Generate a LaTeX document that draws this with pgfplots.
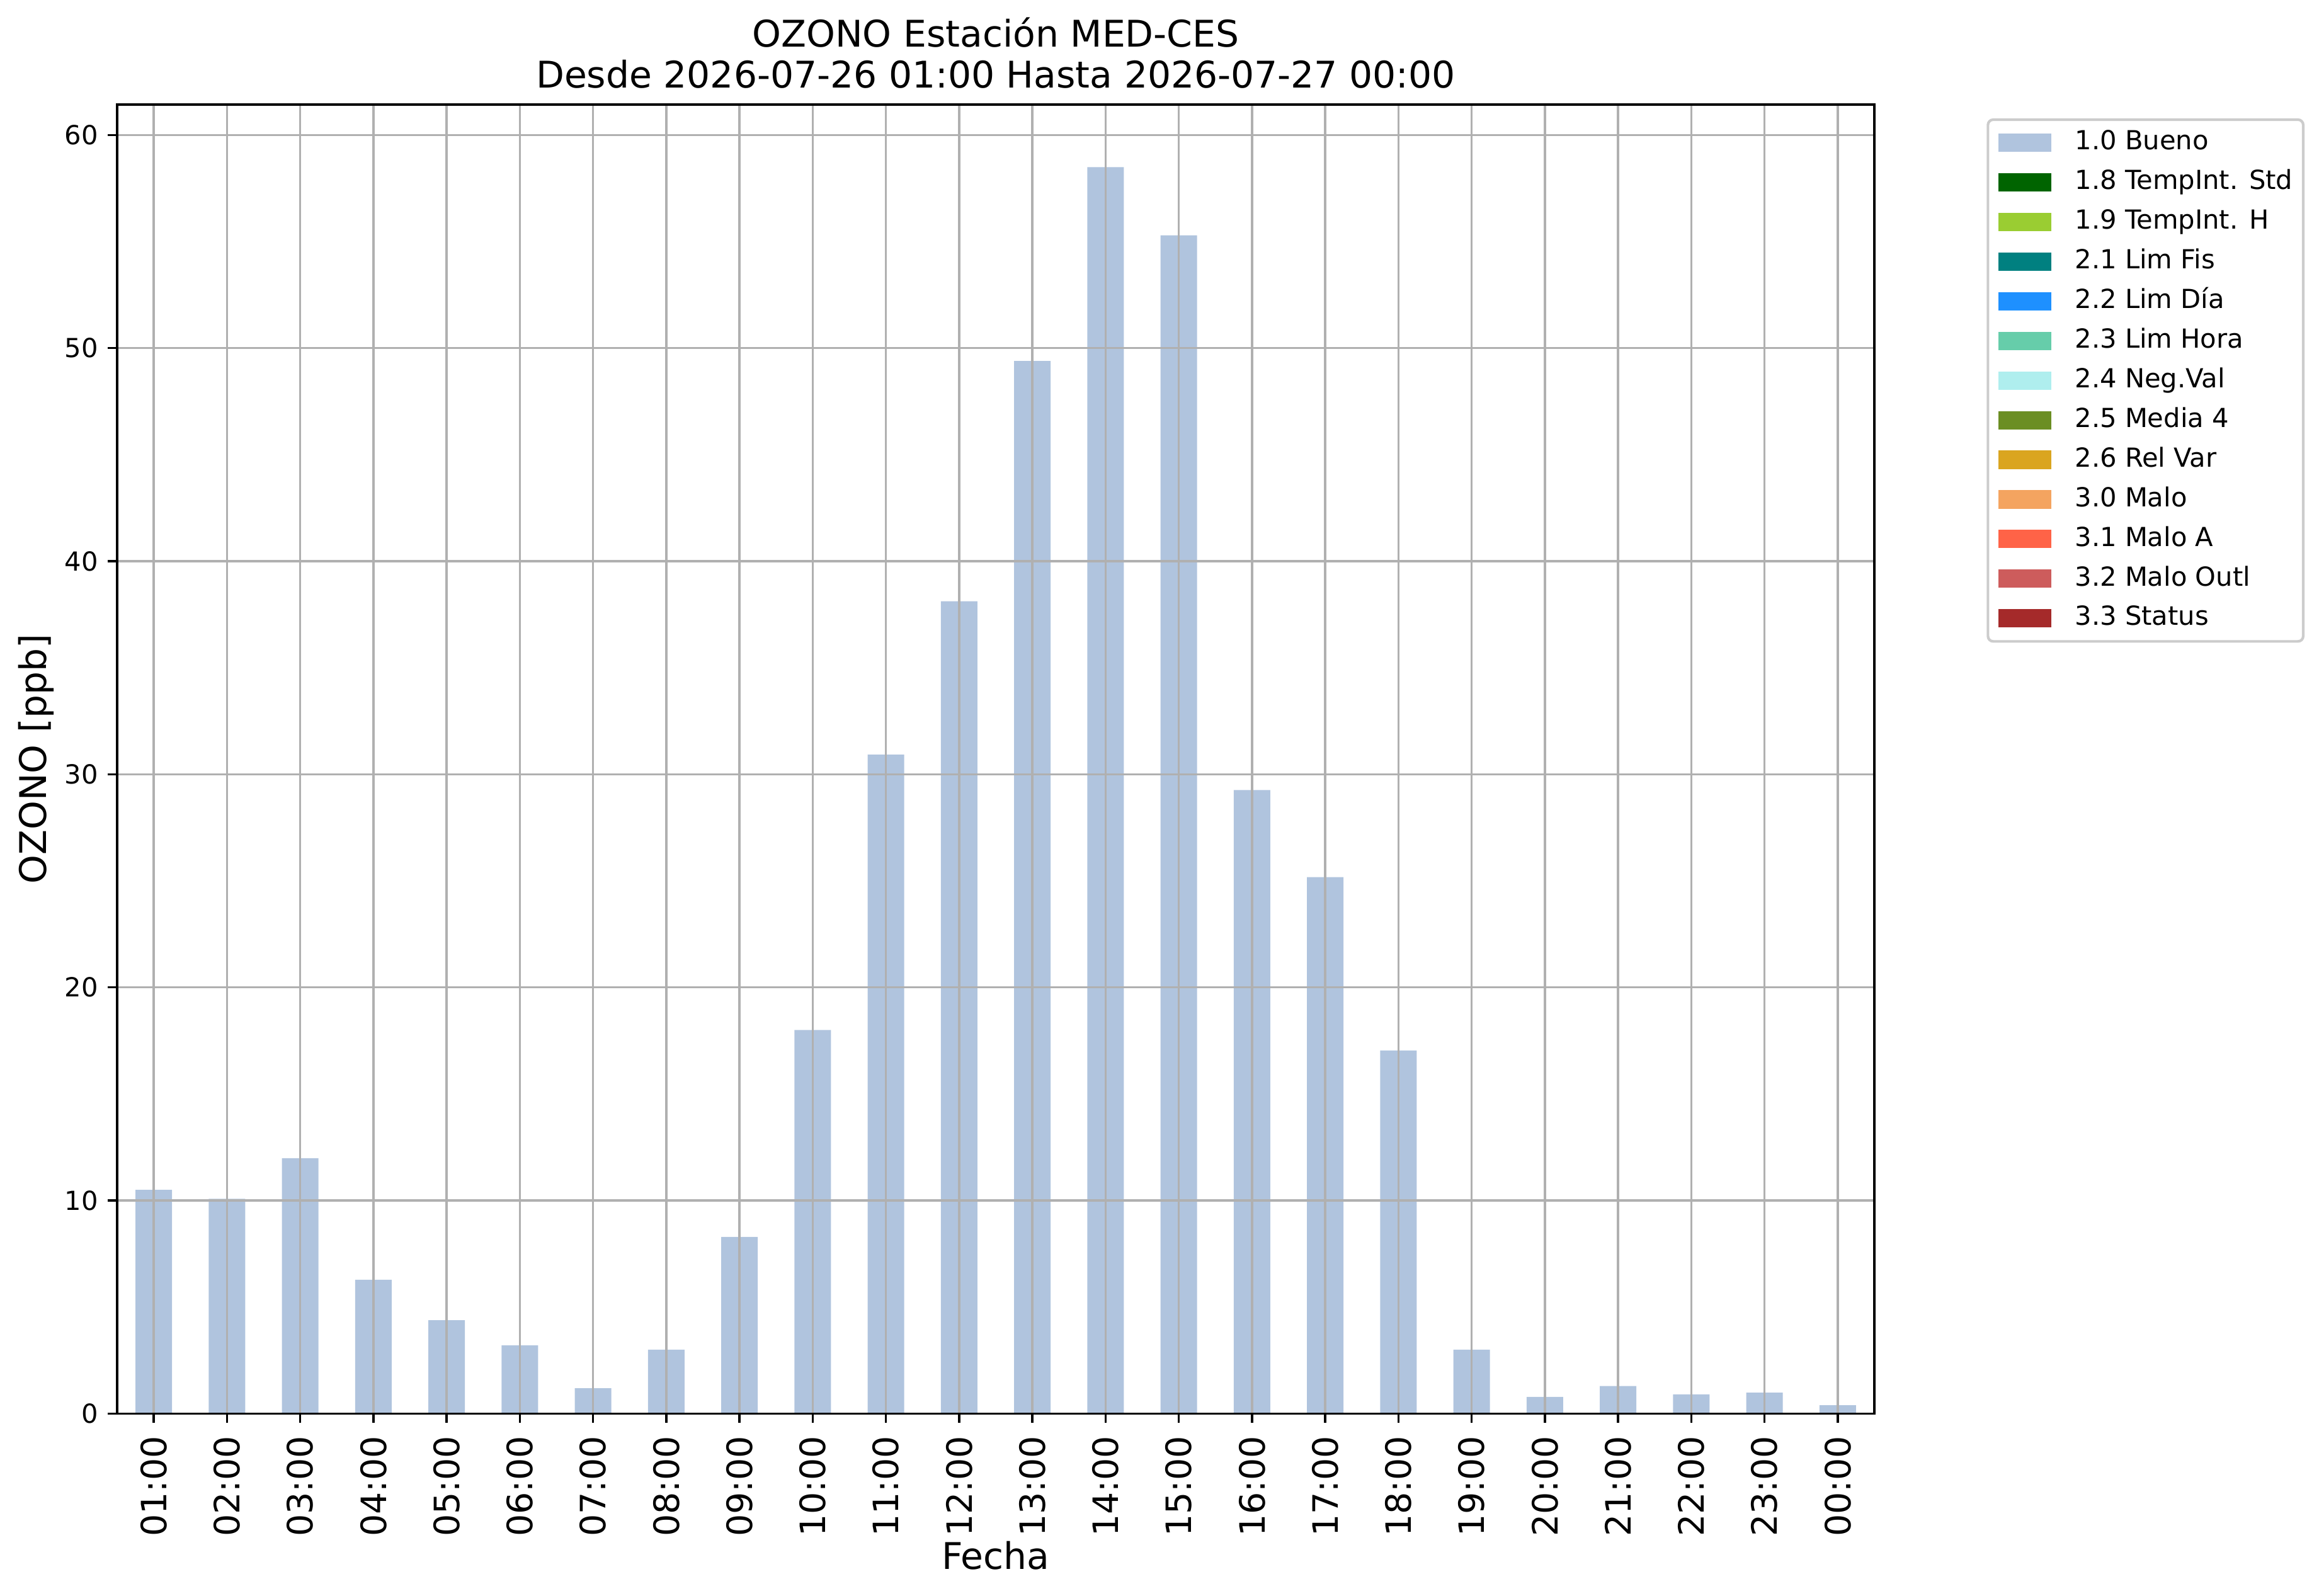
\documentclass[border=0pt]{standalone}
\usepackage{fontspec}
\setmainfont{DejaVu Sans}
\usepackage{pgfplots}
\pgfplotsset{compat=1.18}
\definecolor{lsb}{HTML}{B0C4DE}
\definecolor{cdarkgreen}{HTML}{006400}
\definecolor{cyellowgreen}{HTML}{9ACD32}
\definecolor{cteal}{HTML}{008080}
\definecolor{cdodger}{HTML}{1E90FF}
\definecolor{caqua}{HTML}{66CDAA}
\definecolor{cpaleturq}{HTML}{AFEEEE}
\definecolor{colive}{HTML}{6B8E23}
\definecolor{cgold}{HTML}{DAA520}
\definecolor{csandy}{HTML}{F4A460}
\definecolor{ctomato}{HTML}{FF6347}
\definecolor{cindian}{HTML}{CD5C5C}
\definecolor{cbrown}{HTML}{A52A2A}
\definecolor{gridc}{HTML}{B0B0B0}
\definecolor{legc}{HTML}{CCCCCC}
\begin{document}
\begin{tikzpicture}
\path[use as bounding box] (-44.64pt,-69.5pt) rectangle (839.04pt,538.64pt);
\begin{axis}[
  at={(0,0)}, anchor=south west,
  scale only axis, width=669.6pt, height=498.8pt,
  xmin=-0.5, xmax=23.5, ymin=0, ymax=61.425,
  xtick={0,...,23},
  xticklabels={01{:}00,02{:}00,03{:}00,04{:}00,05{:}00,06{:}00,07{:}00,08{:}00,09{:}00,10{:}00,11{:}00,12{:}00,13{:}00,14{:}00,15{:}00,16{:}00,17{:}00,18{:}00,19{:}00,20{:}00,21{:}00,22{:}00,23{:}00,00{:}00},
  ytick={0,10,20,30,40,50,60},
  grid=major,
  major grid style={gridc, line width=0.8pt},
  axis line style={line width=0.8pt, black},
  every tick/.style={line width=0.8pt, black},
  major tick length=3.5pt, tick align=outside,
  tick pos=left,
  axis on top,
  /pgf/number format/assume math mode=true,
  xticklabel style={font=\fontsize{13.3}{16}\selectfont, rotate=90, anchor=east, inner xsep=4.9pt, inner ysep=0pt},
  yticklabel style={font=\fontsize{10}{12}\selectfont, inner xsep=3.5pt},
  title={\begin{tabular}[b]{@{}c@{}}OZONO Estación MED-CES\\Desde 2026-07-26 01:00 Hasta 2026-07-27 00:00\end{tabular}},
  title style={at={(axis description cs:0.5,1)}, anchor=base, yshift=0.24pt, inner sep=0pt, font=\fontsize{14}{15.6}\selectfont},
  xlabel={Fecha},
  xlabel style={at={(axis description cs:0.5,0)}, anchor=base, yshift=-59.35pt, inner sep=0pt, font=\fontsize{14}{16}\selectfont},
  ylabel={OZONO [ppb]},
  ylabel style={at={(axis description cs:-0.04606,0.5)}, anchor=center, inner sep=0pt, font=\fontsize{14}{16}\selectfont},
  legend cell align=left,
  legend image code/.code={\fill[#1, sharp corners] (0pt,-3.5pt) rectangle (20.16pt,3.5pt);},
  legend style={
    at={(axis description cs:1.0639,0.98946)}, anchor=north west,
    draw=legc, line width=1pt, rounded corners=2pt,
    font=\fontsize{10}{12}\selectfont,
    inner xsep=4pt, inner ysep=4pt,
    row sep=5.5pt,
    nodes={inner sep=0pt, text height=7.5pt, text depth=2.1pt},
    /tikz/every odd column/.append style={column sep=9pt},
  },
]
\addplot[ybar, bar width=0.5, fill=lsb, draw=none, forget plot] coordinates {
(0,10.5) (1,10.08) (2,11.98) (3,6.28) (4,4.38) (5,3.2) (6,1.19) (7,3.0)
(8,8.29) (9,18.0) (10,30.92) (11,38.12) (12,49.39) (13,58.49) (14,55.29) (15,29.26)
(16,25.17) (17,17.04) (18,3.0) (19,0.78) (20,1.29) (21,0.90) (22,0.98) (23,0.39)
};
\addlegendimage{fill=lsb, draw=none}\addlegendentry{1.0 Bueno}
\addlegendimage{fill=cdarkgreen, draw=none}\addlegendentry{1.8 TempInt. Std}
\addlegendimage{fill=cyellowgreen, draw=none}\addlegendentry{1.9 TempInt. H}
\addlegendimage{fill=cteal, draw=none}\addlegendentry{2.1 Lim Fis}
\addlegendimage{fill=cdodger, draw=none}\addlegendentry{2.2 Lim Día}
\addlegendimage{fill=caqua, draw=none}\addlegendentry{2.3 Lim Hora}
\addlegendimage{fill=cpaleturq, draw=none}\addlegendentry{2.4 Neg.Val}
\addlegendimage{fill=colive, draw=none}\addlegendentry{2.5 Media 4}
\addlegendimage{fill=cgold, draw=none}\addlegendentry{2.6 Rel Var}
\addlegendimage{fill=csandy, draw=none}\addlegendentry{3.0 Malo}
\addlegendimage{fill=ctomato, draw=none}\addlegendentry{3.1 Malo A}
\addlegendimage{fill=cindian, draw=none}\addlegendentry{3.2 Malo Outl}
\addlegendimage{fill=cbrown, draw=none}\addlegendentry{3.3 Status}
\end{axis}
\end{tikzpicture}
\end{document}
